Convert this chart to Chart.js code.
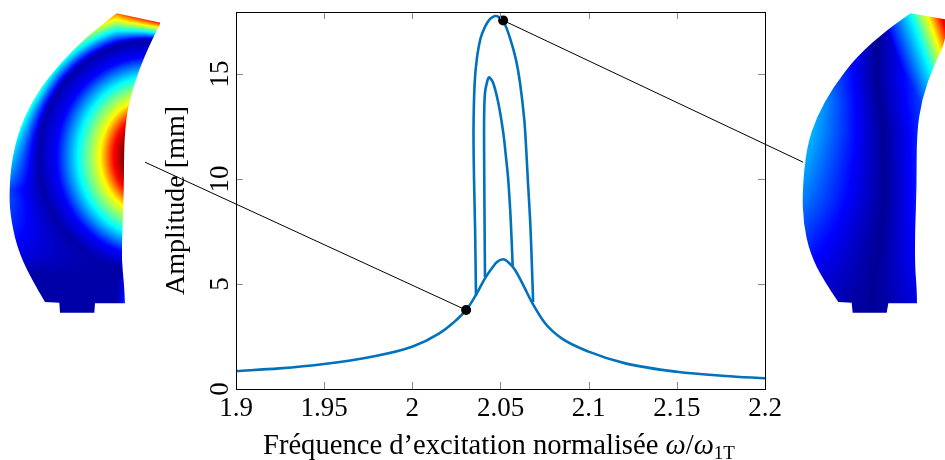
<!DOCTYPE html>
<html>
<head>
<meta charset="utf-8">
<style>
  html, body { margin: 0; padding: 0; background: #fff; }
  canvas { display: block; }
</style>
<script src="https://cdn.jsdelivr.net/npm/chart.js@4"></script>
</head>
<body>
<canvas id="frf" width="945" height="460"></canvas>
<script>
const xTickValues = [1.9, 1.95, 2, 2.05, 2.1, 2.15, 2.2];
const xTickLabels = ['1.9', '1.95', '2', '2.05', '2.1', '2.15', '2.2'];
const yTickValues = [0, 5, 10, 15];
const yTickLabels = ['0', '5', '10', '15'];

const lowerFreq = [1.9, 1.9246, 1.95, 1.9756, 2.0002, 2.0153, 2.0229, 2.0308, 2.0361, 2.0412, 2.0452, 2.048, 2.0516, 2.0549, 2.0583, 2.0634, 2.068, 2.0753, 2.0847, 2.1, 2.1208, 2.15, 2.1774, 2.2];
const lowerAmp = [0.857, 0.98, 1.19, 1.51, 2.02, 2.65, 3.13, 3.79, 4.48, 5.27, 5.76, 6.05, 6.18, 6.0, 5.67, 4.86, 4.1, 3.13, 2.41, 1.78, 1.22, 0.82, 0.62, 0.51];
const outerFreq = [2.0361, 2.0356, 2.035, 2.0347, 2.0353, 2.0365, 2.0387, 2.0412, 2.0441, 2.0469, 2.0492, 2.0514, 2.0554, 2.0588, 2.0611, 2.0635, 2.0646, 2.0655, 2.0668, 2.0677, 2.0685];
const outerAmp = [4.43, 7.57, 9.95, 12.33, 14.48, 15.67, 16.7, 17.24, 17.62, 17.76, 17.71, 17.57, 16.71, 15.67, 14.56, 12.81, 11.38, 9.95, 8.05, 6.14, 4.14];
const innerFreq = [2.0412, 2.041, 2.0408, 2.0407, 2.0412, 2.0424, 2.0435, 2.0459, 2.0488, 2.0516, 2.0531, 2.0544, 2.0558, 2.0569];
const innerAmp = [5.33, 7.57, 9.95, 12.81, 14.1, 14.62, 14.84, 14.56, 13.6, 12.18, 11.05, 9.95, 8.05, 5.85];
const markerFreq = [2.0305, 2.0515];
const markerAmp = [3.76, 17.55];
const leaderLowFreq = [1.8484, 2.0305];
const leaderLowAmp = [10.8, 3.76];
const leaderHighFreq = [2.0515, 2.2216];
const leaderHighAmp = [17.55, 10.8];

// blade outlines, in 3x px relative to the blade image origin
const leftBladeInner = [[482,68],[440,150],[400,260],[380,340],[372,440],[372,560],[367,700],[365,780],[372,850],[375,910]];
const leftBladeFoot = [[285,910],[283,938],[180,938],[178,908],[135,906]];
const leftBladeOuter = [[135,906],[90,830],[50,740],[30,640],[28,570],[35,480],[60,380],[110,280],[180,190],[260,110],[350,40]];
const rightBladeInner = [[470,120],[430,200],[395,300],[380,400],[380,560],[375,700],[375,800],[380,860],[381,910]];
const rightBladeFoot = [[295,910],[290,938],[188,938],[185,908],[145,906]];
const rightBladeOuter = [[145,906],[100,840],[60,760],[40,670],[37,570],[50,440],[80,350],[130,260],[200,170],[290,90],[362,40]];

const serif = '"Liberation Serif", serif';
const toPoints = (xs, ys) => xs.map((x, i) => ({ x, y: ys[i] }));
const clamp = (v, a, b) => Math.min(b, Math.max(a, v));

function lookup(table, t) {
  if (t <= table[0][0]) return table[0][1];
  for (let i = 1; i < table.length; i++) {
    if (t <= table[i][0]) {
      const [a, va] = table[i - 1], [b, vb] = table[i];
      return va + (vb - va) * (t - a) / (b - a);
    }
  }
  return table[table.length - 1][1];
}

function jet(v) {
  const r = lookup([[0.375, 0], [0.625, 1], [0.875, 1], [1, 0.5]], v);
  const g = lookup([[0.125, 0], [0.375, 1], [0.625, 1], [0.875, 0]], v);
  const b = lookup([[0, 0.5], [0.125, 1], [0.375, 1], [0.625, 0]], v);
  return [r * 255, g * 255, b * 255];
}

const innerLobe = [[78, 1], [110, 0.87], [150, 0.625], [215, 0.375], [280, 0.125], [335, 0.04]];

function leftField(x, y) {
  const dx = 450 - x, dy = y - 470;
  const d0 = Math.hypot(dx, dy);
  const k = 0.75 + 0.21 * clamp(d0 / 335, 0, 1);
  const e = Math.hypot(dx, k * dy);
  if (e <= 335) return lookup(innerLobe, e);
  const low = clamp((820 - y) / 220, 0, 1);
  const g = 0.15 * low + 0.65 * clamp((570 - y) / 290, 0, 1) + 0.8 * clamp((x - 350) / 132, 0, 1);
  return clamp(0.04 + (e - 335) / 100 * g, 0, 1);
}

function rightField(x, y) {
  const cx = lookup([[250, 260], [400, 280], [600, 285], [800, 260], [940, 250]], y);
  const leftSlope = lookup([[300, 0.0015], [640, 0.00085], [900, 0.0003]], y);
  const rightSlope = lookup([[600, 0.0013], [900, 0.0006]], y);
  const base = x < cx ? (cx - x) * leftSlope : (x - cx) * rightSlope;
  const t = x - 0.35 * y;
  const tip = lookup([[265, 0.125], [347, 0.375], [397, 0.625], [435, 0.875], [470, 1]], t);
  return clamp(Math.max(0.02 + base, t > 265 ? tip : 0), 0, 1);
}

function smoothThrough(ctx, pts, ox, oy) {
  for (let i = 1; i < pts.length - 1; i++) {
    const mx = (pts[i][0] + pts[i + 1][0]) / 2, my = (pts[i][1] + pts[i + 1][1]) / 2;
    ctx.quadraticCurveTo(ox + pts[i][0] / 3, oy + pts[i][1] / 3, ox + mx / 3, oy + my / 3);
  }
  const last = pts[pts.length - 1];
  ctx.lineTo(ox + last[0] / 3, oy + last[1] / 3);
}

function drawBlade(ctx, inner, foot, outer, field, ox, oy) {
  const w = 160, h = 320;
  const off = document.createElement('canvas');
  off.width = w;
  off.height = h;
  const octx = off.getContext('2d');
  const img = octx.createImageData(w, h);
  for (let py = 0; py < h; py++) {
    for (let px = 0; px < w; px++) {
      const c = jet(field((px + 0.5) * 3, (py + 0.5) * 3));
      const i = (py * w + px) * 4;
      img.data[i] = c[0];
      img.data[i + 1] = c[1];
      img.data[i + 2] = c[2];
      img.data[i + 3] = 255;
    }
  }
  octx.putImageData(img, 0, 0);
  ctx.save();
  ctx.beginPath();
  ctx.moveTo(ox + inner[0][0] / 3, oy + inner[0][1] / 3);
  smoothThrough(ctx, inner, ox, oy);
  foot.forEach(([x, y]) => ctx.lineTo(ox + x / 3, oy + y / 3));
  smoothThrough(ctx, outer, ox, oy);
  ctx.closePath();
  ctx.clip();
  ctx.drawImage(off, ox, oy);
  ctx.restore();
}

const bladesPlugin = {
  id: 'blades',
  beforeDraw(chart) {
    drawBlade(chart.ctx, leftBladeInner, leftBladeFoot, leftBladeOuter, leftField, 0, 0);
    drawBlade(chart.ctx, [[470, 59]].concat(rightBladeInner), rightBladeFoot, rightBladeOuter, rightField, 790, 0);
  },
};

// pgfplots style box with inward ticks on all four sides
const framePlugin = {
  id: 'frame',
  afterDatasetsDraw(chart) {
    const { ctx, chartArea: a, scales } = chart;
    const len = 7;
    ctx.save();
    ctx.strokeStyle = '#8a8a8a';
    ctx.lineWidth = 1;
    ctx.beginPath();
    xTickValues.forEach((v) => {
      const x = Math.round(scales.x.getPixelForValue(v)) + 0.5;
      ctx.moveTo(x, a.bottom); ctx.lineTo(x, a.bottom - len);
      ctx.moveTo(x, a.top); ctx.lineTo(x, a.top + len);
    });
    yTickValues.forEach((v) => {
      const y = Math.round(scales.y.getPixelForValue(v)) + 0.5;
      ctx.moveTo(a.left, y); ctx.lineTo(a.left + len, y);
      ctx.moveTo(a.right, y); ctx.lineTo(a.right - len, y);
    });
    ctx.stroke();
    ctx.strokeStyle = '#000';
    ctx.strokeRect(Math.round(a.left) + 0.5, Math.round(a.top) + 0.5, Math.round(a.width), Math.round(a.height));
    ctx.restore();
  },
};

// x title needs an italic omega and a subscript, the native title can't do that
const xTitlePlugin = {
  id: 'xTitle',
  afterDraw(chart) {
    const { ctx } = chart;
    const parts = [
      { t: 'Fréquence d’excitation normalisée ', f: '28.6px ' + serif, dy: 0 },
      { t: 'ω', f: 'italic 28.6px ' + serif, dy: 0 },
      { t: '/', f: '28.6px ' + serif, dy: 0 },
      { t: 'ω', f: 'italic 28.6px ' + serif, dy: 0 },
      { t: '1T', f: '19px ' + serif, dy: 5 },
    ];
    ctx.save();
    ctx.fillStyle = '#000';
    ctx.textBaseline = 'alphabetic';
    ctx.textAlign = 'left';
    let x = 263;
    parts.forEach((p) => {
      ctx.font = p.f;
      ctx.fillText(p.t, x, 454 + p.dy);
      x += ctx.measureText(p.t).width;
    });
    ctx.restore();
  },
};

new Chart(document.getElementById('frf'), {
  type: 'scatter',
  data: {
    datasets: [
      { data: toPoints(markerFreq, markerAmp), pointRadius: 5, pointBackgroundColor: '#000', pointBorderWidth: 0, showLine: false, clip: false },
      { data: toPoints(outerFreq, outerAmp), showLine: true, borderColor: '#0072bd', borderWidth: 2.6, pointRadius: 0, tension: 0.3 },
      { data: toPoints(innerFreq, innerAmp), showLine: true, borderColor: '#0072bd', borderWidth: 2.6, pointRadius: 0, tension: 0.3 },
      { data: toPoints(lowerFreq, lowerAmp), showLine: true, borderColor: '#0072bd', borderWidth: 2.6, pointRadius: 0, cubicInterpolationMode: 'monotone' },
      { data: toPoints(leaderLowFreq, leaderLowAmp), showLine: true, borderColor: '#000', borderWidth: 1, pointRadius: 0, clip: false },
      { data: toPoints(leaderHighFreq, leaderHighAmp), showLine: true, borderColor: '#000', borderWidth: 1, pointRadius: 0, clip: false },
    ],
  },
  options: {
    responsive: false,
    animation: false,
    layout: { padding: { left: 160, right: 180, top: 12, bottom: 0 } },
    plugins: { legend: { display: false }, tooltip: { enabled: false } },
    scales: {
      x: {
        type: 'linear',
        min: 1.9,
        max: 2.2,
        grid: { display: false },
        border: { display: false },
        afterBuildTicks: (s) => { s.ticks = xTickValues.map((value) => ({ value })); },
        afterFit: (s) => { s.height = 71; s.paddingLeft = 0; s.paddingRight = 0; },
        ticks: {
          autoSkip: false,
          maxRotation: 0,
          padding: -4,
          color: '#000',
          font: { family: serif, size: 27 },
          callback: (v) => xTickLabels[xTickValues.indexOf(v)],
        },
      },
      y: {
        type: 'linear',
        min: 0,
        max: 17.95,
        grid: { display: false },
        border: { display: false },
        afterBuildTicks: (s) => { s.ticks = yTickValues.map((value) => ({ value })); },
        afterFit: (s) => { s.width = 76; s.paddingTop = 0; s.paddingBottom = 0; },
        ticks: {
          autoSkip: false,
          minRotation: 90,
          maxRotation: 90,
          crossAlign: 'center',
          padding: -6,
          color: '#000',
          font: { family: serif, size: 27 },
          callback: (v) => yTickLabels[yTickValues.indexOf(v)],
        },
        title: {
          display: true,
          text: 'Amplitude [mm]',
          color: '#000',
          font: { family: serif, size: 28 },
          padding: 0,
        },
      },
    },
  },
  plugins: [bladesPlugin, framePlugin, xTitlePlugin],
});
</script>
</body>
</html>
